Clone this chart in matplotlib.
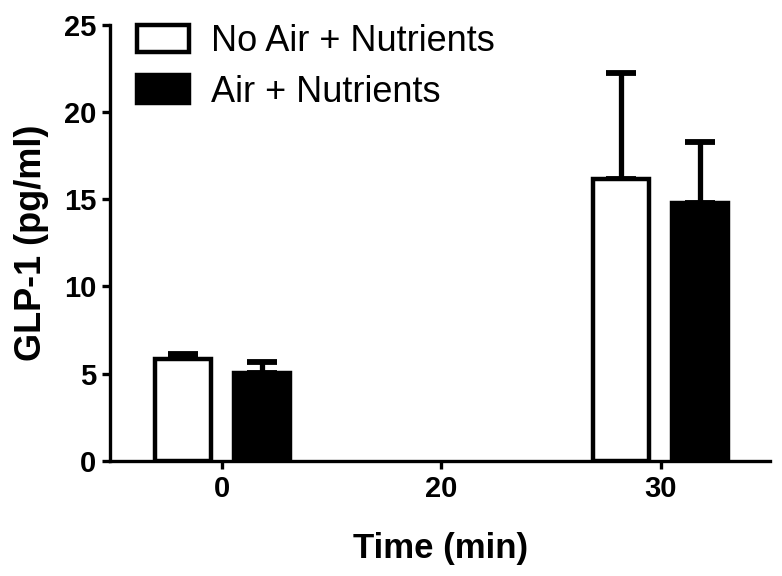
import numpy as np
import matplotlib
matplotlib.use("Agg")
import matplotlib.pyplot as plt

# data
times = ["0", "20", "30"]
no_air_mean = [5.85, np.nan, 16.15]
no_air_err = [0.3, np.nan, 6.1]
air_mean = [5.05, np.nan, 14.8]
air_err = [0.6, np.nan, 3.5]

plt.rcParams["font.family"] = ["Liberation Sans", "DejaVu Sans"]

fig = plt.figure(figsize=(7.82, 5.76), dpi=100)
ax = fig.add_axes([0.141, 0.2, 0.844, 0.757])

x = np.arange(len(times))
w = 0.255
off = 0.18

def upper(err):
    return [np.zeros(len(err)), err]

ax.bar(x - off, no_air_mean, w, color="white", edgecolor="black", linewidth=3.2,
       label="No Air + Nutrients", zorder=3)
ax.bar(x + off, air_mean, w, color="black", edgecolor="black", linewidth=3.2,
       label="Air + Nutrients", zorder=3)
ax.errorbar(x - off, no_air_mean, yerr=upper(no_air_err), fmt="none", ecolor="black",
            elinewidth=3.8, capsize=11, capthick=4.2, zorder=2)
ax.errorbar(x + off, air_mean, yerr=upper(air_err), fmt="none", ecolor="black",
            elinewidth=3.8, capsize=11, capthick=4.2, zorder=2)

ax.set_xlim(-0.51, 2.5)
ax.set_ylim(0, 25)
ax.set_xticks(x)
ax.set_xticklabels(times)
ax.set_yticks([0, 5, 10, 15, 20, 25])

for s in ["top", "right"]:
    ax.spines[s].set_visible(False)
for s in ["left", "bottom"]:
    ax.spines[s].set_linewidth(2.4)
ax.tick_params(axis="both", length=6, width=2.4, labelsize=21, pad=4)
for lab in ax.get_xticklabels() + ax.get_yticklabels():
    lab.set_fontweight("bold")

ax.set_xlabel("Time (min)", fontsize=25, fontweight="bold", labelpad=21)
ax.set_ylabel("GLP-1 (pg/ml)", fontsize=26, fontweight="bold", labelpad=11)

leg = ax.legend(loc="upper left", bbox_to_anchor=(0.175, 0.958), bbox_transform=fig.transFigure,
                frameon=False, fontsize=26, handlelength=1.44, handleheight=0.8,
                handletextpad=0.6, labelspacing=0.43, borderpad=0, borderaxespad=0)

fig.savefig("out.png", dpi=100)
